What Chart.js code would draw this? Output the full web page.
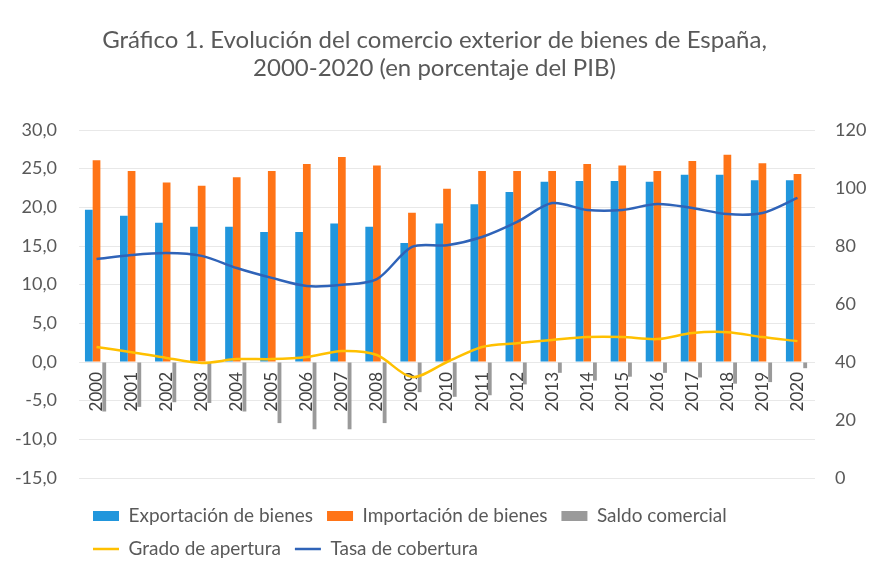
<!DOCTYPE html>
<html><head><meta charset="utf-8">
<script src="https://cdn.jsdelivr.net/npm/chart.js@4.4.1/dist/chart.umd.min.js"></script>
<style>html,body{margin:0;padding:0;background:#fff;}</style>
</head><body>
<canvas id="c" width="869" height="569"></canvas>
<script>
const years = ['2000','2001','2002','2003','2004','2005','2006','2007','2008','2009','2010','2011','2012','2013','2014','2015','2016','2017','2018','2019','2020'];
const exportacion = [19.7,18.9,18.0,17.5,17.5,16.8,16.8,17.9,17.5,15.4,17.9,20.4,22.0,23.3,23.4,23.4,23.3,24.2,24.2,23.5,23.5];
const importacion = [26.1,24.7,23.2,22.8,23.9,24.7,25.6,26.5,25.4,19.3,22.4,24.7,24.7,24.7,25.6,25.4,24.7,26.0,26.8,25.7,24.3];
const saldo = [-6.4,-5.8,-5.2,-5.3,-6.4,-7.9,-8.7,-8.7,-7.9,-3.9,-4.5,-4.3,-2.9,-1.4,-2.4,-1.9,-1.4,-2.0,-2.8,-2.6,-0.8];
const apertura = [45.2,43.4,41.4,39.7,41.0,41.0,41.7,43.8,42.4,34.8,40.0,45.2,46.5,47.6,48.6,48.6,47.9,50.0,50.3,48.6,47.2];
const cobertura = [75.5,76.9,77.6,76.6,72.4,69.0,66.2,66.6,68.6,79.7,80.3,83.1,88.3,94.8,92.4,92.4,94.5,93.1,91.0,91.4,96.6];
const leftAxis = [-15, 30, 5];
const rightAxis = [0, 120, 20];
const titleLines = ['Gráfico 1. Evolución del comercio exterior de bienes de España,', '2000-2020 (en porcentaje del PIB)'];

const FONT = 'Lato, "Open Sans", sans-serif';
const TXT = '#595959';

new Chart(document.getElementById('c'), {
  type: 'bar',
  data: {
    labels: years,
    datasets: [
      {label: 'Exportación de bienes', data: exportacion, backgroundColor: '#2196dc', yAxisID: 'y', pointStyle: 'rect', categoryPercentage: 0.66, barPercentage: 1.0},
      {label: 'Importación de bienes', data: importacion, backgroundColor: '#ff7417', yAxisID: 'y', pointStyle: 'rect', categoryPercentage: 0.66, barPercentage: 1.0},
      {label: 'Saldo comercial', data: saldo, backgroundColor: '#9a9a9a', yAxisID: 'y', pointStyle: 'rect', categoryPercentage: 0.66, barPercentage: 0.5},
      {type: 'line', label: 'Grado de apertura', data: apertura, borderColor: '#ffc000', backgroundColor: '#ffc000', borderWidth: 2.5, yAxisID: 'y1', pointRadius: 0, pointStyle: 'line', tension: 0.3, order: -1},
      {type: 'line', label: 'Tasa de cobertura', data: cobertura, borderColor: '#2f63b8', backgroundColor: '#2f63b8', borderWidth: 2.5, yAxisID: 'y1', pointRadius: 0, pointStyle: 'line', tension: 0.3, order: -1}
    ]
  },
  options: {
    responsive: false,
    animation: false,
    layout: {padding: {left: 0, right: 0, top: 0, bottom: 0.5}},
    plugins: {
      title: {
        display: true, text: titleLines, color: TXT,
        font: {family: FONT, size: 24, weight: 'normal', lineHeight: 1.167},
        padding: {top: 26, bottom: 48}
      },
      legend: {
        position: 'bottom', align: 'start', fullSize: false,
        title: {display: true, text: '', font: {size: 1, lineHeight: 1.2}, padding: {top: 13.3, bottom: 0}},
        labels: {
          usePointStyle: true, pointStyleWidth: 26, boxHeight: 10, padding: 14,
          color: TXT, font: {family: FONT, size: 19},
          sort: (a, b) => a.datasetIndex - b.datasetIndex
        }
      },
      tooltip: {enabled: false}
    },
    scales: {
      x: {
        position: {y: 0}, z: 1,
        grid: {display: false, drawTicks: false}, border: {display: false},
        ticks: {minRotation: 90, maxRotation: 90, autoSkip: false, padding: 10, color: '#404040', font: {family: FONT, size: 17}}
      },
      y: {
        position: 'left', min: leftAxis[0], max: leftAxis[1],
        afterFit: s => { s.width = 79; },
        grid: {color: '#e8e8e8', drawTicks: false}, border: {display: false},
        ticks: {stepSize: leftAxis[2], padding: 22, color: TXT, font: {family: FONT, size: 18},
          callback: v => v.toFixed(1).replace('.', ',')}
      },
      y1: {
        position: 'right', min: rightAxis[0], max: rightAxis[1],
        afterFit: s => { s.width = 54; },
        grid: {display: false, drawTicks: false}, border: {display: false},
        ticks: {stepSize: rightAxis[2], padding: 20, color: TXT, font: {family: FONT, size: 18}}
      }
    }
  }
});
</script>
</body></html>
